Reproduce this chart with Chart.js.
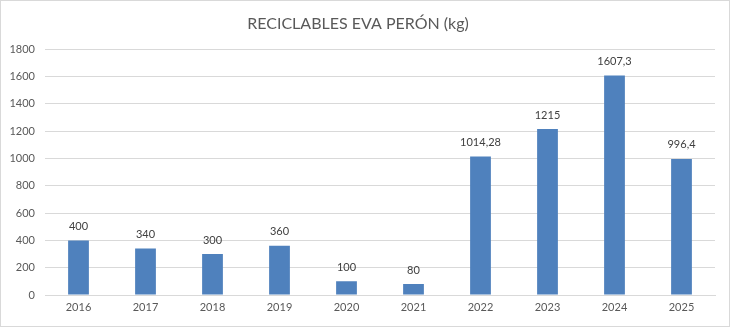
<!DOCTYPE html>
<html>
<head>
<meta charset="utf-8">
<script src="https://cdn.jsdelivr.net/npm/chart.js@4/dist/chart.umd.min.js"></script>
<style>
    html, body { margin: 0; padding: 0; background: #fff; }
    #wrap { width: 730px; height: 327px; box-sizing: border-box; border: 1px solid #d9d9d9; }
    canvas { display: block; }
</style>
</head>
<body>
<div id="wrap"><canvas id="reciclChart" width="728" height="325"></canvas></div>
<script>
const years = ['2016', '2017', '2018', '2019', '2020', '2021', '2022', '2023', '2024', '2025'];
const kilos = [400, 340, 300, 360, 100, 80, 1014.28, 1215, 1607.3, 996.4];
const yTicks = [0, 200, 400, 600, 800, 1000, 1200, 1400, 1600, 1800];

const FONT = 'Lato, "Open Sans", sans-serif';

// draws the value over each bar, comma as decimal mark
const valueLabels = {
    id: 'valueLabels',
    afterDatasetsDraw: function (chart) {
        const ctx = chart.ctx;
        const meta = chart.getDatasetMeta(0);
        ctx.save();
        ctx.font = '11px ' + FONT;
        ctx.fillStyle = '#404040';
        ctx.textAlign = 'center';
        ctx.textBaseline = 'middle';
        meta.data.forEach(function (bar, i) {
            ctx.fillText(String(kilos[i]).replace('.', ','), bar.x, bar.y - 14);
        });
        ctx.restore();
    }
};

const ctx = document.getElementById('reciclChart').getContext('2d');

new Chart(ctx, {
    type: 'bar',
    data: {
        labels: years,
        datasets: [{
            label: 'kg',
            data: kilos,
            backgroundColor: '#4f81bd',
            categoryPercentage: 1,
            barPercentage: 0.31
        }]
    },
    options: {
        responsive: false,
        animation: false,
        layout: { padding: { left: 0, right: 14, top: 0, bottom: 0 } },
        plugins: {
            legend: { display: false },
            tooltip: { enabled: false },
            title: {
                display: true,
                text: 'RECICLABLES EVA PERÓN (kg)',
                color: '#595959',
                font: { family: FONT, size: 16, weight: 'normal' },
                padding: { top: 13, bottom: 16 }
            }
        },
        scales: {
            x: {
                grid: { display: false, drawTicks: false },
                border: { display: true, color: '#d9d9d9' },
                afterFit: function (s) { s.height = 31; },
                ticks: { color: '#595959', font: { family: FONT, size: 11 }, padding: 6 }
            },
            y: {
                min: 0,
                max: 1800,
                afterFit: function (s) { s.width = 44; },
                afterBuildTicks: function (s) { s.ticks = yTicks.map(v => ({ value: v })); },
                grid: { color: '#d9d9d9', drawTicks: false },
                border: { display: false },
                ticks: {
                    color: '#595959',
                    font: { family: FONT, size: 11 },
                    padding: 10,
                    callback: function (v) { return String(v); }
                }
            }
        }
    },
    plugins: [valueLabels]
});
</script>
</body>
</html>
